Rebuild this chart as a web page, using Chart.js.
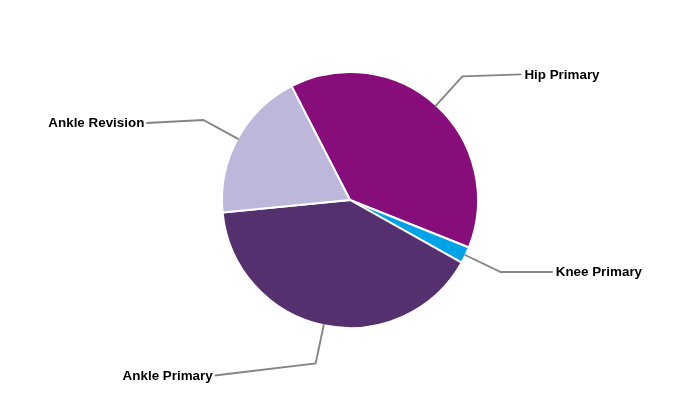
<!DOCTYPE html>
<html>
<head>
<meta charset="utf-8">
<script src="https://cdn.jsdelivr.net/npm/chart.js@4.4.0/dist/chart.umd.min.js"></script>
<style>
  html, body { margin: 0; padding: 0; background: #ffffff; }
  #wrap { width: 700px; height: 400px; }
</style>
</head>
<body>
<div id="wrap"><canvas id="c" width="700" height="400"></canvas></div>
<script>
const categories = ["Hip Primary", "Knee Primary", "Ankle Primary", "Ankle Revision"];
const shares = [38.6, 2.1, 40.3, 19.0];
const sliceColors = ["#870E7A", "#00A2E8", "#55306E", "#BEB7DC"];

// label layout: offset of label anchor from the leader elbow
const labelOffsets = [[59, -2], [52, 0], [-101, 12], [-57, 3]];

const leaderPlugin = {
  id: 'leaders',
  afterDatasetsDraw(chart) {
    const ctx = chart.ctx;
    const meta = chart.getDatasetMeta(0);
    ctx.save();
    ctx.font = 'bold 13.4px "Liberation Sans", Arial, sans-serif';
    ctx.textBaseline = 'middle';
    meta.data.forEach((arc, i) => {
      const p = arc.getProps(['x', 'y', 'startAngle', 'endAngle', 'outerRadius'], true);
      const mid = (p.startAngle + p.endAngle) / 2;
      const r = p.outerRadius;
      const x0 = p.x + Math.cos(mid) * (r - 1);
      const y0 = p.y + Math.sin(mid) * (r - 1);
      const x1 = p.x + Math.cos(mid) * r * 1.305;
      const y1 = p.y + Math.sin(mid) * r * 1.305;
      const off = labelOffsets[i];
      const x2 = x1 + off[0];
      const y2 = y1 + off[1];
      ctx.strokeStyle = '#858585';
      ctx.lineWidth = 1.9;
      ctx.beginPath();
      ctx.moveTo(x0, y0);
      ctx.lineTo(x1, y1);
      ctx.lineTo(x2, y2);
      ctx.stroke();
      ctx.fillStyle = '#000000';
      if (off[0] >= 0) {
        ctx.textAlign = 'left';
        ctx.fillText(categories[i], x2 + 3, y2 + 0.5);
      } else {
        ctx.textAlign = 'right';
        ctx.fillText(categories[i], x2 - 2, y2 + 0.5);
      }
    });
    ctx.restore();
  }
};

new Chart(document.getElementById('c'), {
  type: 'pie',
  data: {
    labels: categories,
    datasets: [{
      data: shares,
      backgroundColor: sliceColors,
      borderColor: '#ffffff',
      borderWidth: 2
    }]
  },
  options: {
    responsive: false,
    animation: false,
    rotation: -27.2,
    layout: { padding: { top: 71, bottom: 71, left: 0, right: 0 } },
    plugins: {
      legend: { display: false },
      tooltip: { enabled: false }
    }
  },
  plugins: [leaderPlugin]
});
</script>
</body>
</html>
